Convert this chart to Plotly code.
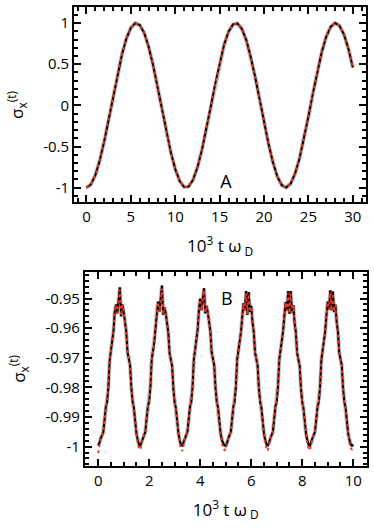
import plotly.graph_objects as go

# ---- panel A: sigma_x(t), 10^3 t w_D from 0 to 30 ----
t_a = [0.0, 0.5, 1.0, 1.5, 2.0, 2.5, 3.0, 3.5, 4.0, 4.5, 5.0, 5.5, 6.0, 6.5, 7.0, 7.5,
       8.0, 8.5, 9.0, 9.5, 10.0, 10.5, 11.0, 11.5, 12.0, 12.5, 13.0, 13.5, 14.0, 14.5,
       15.0, 15.5, 16.0, 16.5, 17.0, 17.5, 18.0, 18.5, 19.0, 19.5, 20.0, 20.5, 21.0,
       21.5, 22.0, 22.5, 23.0, 23.5, 24.0, 24.5, 25.0, 25.5, 26.0, 26.5, 27.0, 27.5,
       28.0, 28.5, 29.0, 29.5, 30.0]
sig_a = [-1.0, -0.961, -0.847, -0.667, -0.436, -0.170, 0.109, 0.379, 0.620, 0.813,
         0.942, 0.998, 0.976, 0.879, 0.712, 0.491, 0.230, -0.047, -0.322, -0.571,
         -0.775, -0.920, -0.992, -0.988, -0.906, -0.754, -0.543, -0.289, -0.014, 0.264,
         0.520, 0.735, 0.894, 0.983, 0.995, 0.930, 0.792, 0.591, 0.344, 0.075,
         -0.202, -0.466, -0.692, -0.866, -0.970, -0.999, -0.951, -0.828, -0.642, -0.404,
         -0.136, 0.143, 0.412, 0.647, 0.833, 0.953, 1.000, 0.968, 0.861, 0.687, 0.460]

# ---- panel B: zoom on the small fast oscillation, 0 to 10 ----
t_b = [0.0, 0.05, 0.1, 0.15, 0.2, 0.25, 0.3, 0.35, 0.4, 0.45, 0.5, 0.55, 0.6, 0.65, 0.7, 0.75, 0.8, 0.85, 0.9, 0.95,
       1.0, 1.05, 1.1, 1.15, 1.2, 1.25, 1.3, 1.35, 1.4, 1.45, 1.5, 1.55, 1.6, 1.65, 1.7, 1.75, 1.8, 1.85, 1.9, 1.95,
       2.0, 2.05, 2.1, 2.15, 2.2, 2.25, 2.3, 2.35, 2.4, 2.45, 2.5, 2.55, 2.6, 2.65, 2.7, 2.75, 2.8, 2.85, 2.9, 2.95,
       3.0, 3.05, 3.1, 3.15, 3.2, 3.25, 3.3, 3.35, 3.4, 3.45, 3.5, 3.55, 3.6, 3.65, 3.7, 3.75, 3.8, 3.85, 3.9, 3.95,
       4.0, 4.05, 4.1, 4.15, 4.2, 4.25, 4.3, 4.35, 4.4, 4.45, 4.5, 4.55, 4.6, 4.65, 4.7, 4.75, 4.8, 4.85, 4.9, 4.95,
       5.0, 5.05, 5.1, 5.15, 5.2, 5.25, 5.3, 5.35, 5.4, 5.45, 5.5, 5.55, 5.6, 5.65, 5.7, 5.75, 5.8, 5.85, 5.9, 5.95,
       6.0, 6.05, 6.1, 6.15, 6.2, 6.25, 6.3, 6.35, 6.4, 6.45, 6.5, 6.55, 6.6, 6.65, 6.7, 6.75, 6.8, 6.85, 6.9, 6.95,
       7.0, 7.05, 7.1, 7.15, 7.2, 7.25, 7.3, 7.35, 7.4, 7.45, 7.5, 7.55, 7.6, 7.65, 7.7, 7.75, 7.8, 7.85, 7.9, 7.95,
       8.0, 8.05, 8.1, 8.15, 8.2, 8.25, 8.3, 8.35, 8.4, 8.45, 8.5, 8.55, 8.6, 8.65, 8.7, 8.75, 8.8, 8.85, 8.9, 8.95,
       9.0, 9.05, 9.1, 9.15, 9.2, 9.25, 9.3, 9.35, 9.4, 9.45, 9.5, 9.55, 9.6, 9.65, 9.7, 9.75, 9.8, 9.85, 9.9, 9.95,
       10.0]

# exact result (black solid line)
sig_b_exact = [
    -0.9996, -0.9988, -0.9972, -0.9962, -0.9952, -0.9910, -0.9866, -0.9852, -0.9800, -0.9710, -0.9680,
    -0.9655, -0.9610, -0.9545, -0.9520, -0.9550, -0.9495, -0.9462, -0.9560, -0.9520, -0.9545, -0.9575,
    -0.9610, -0.9680, -0.9700, -0.9725, -0.9800, -0.9850, -0.9868, -0.9915, -0.9955, -0.9978, -0.9993,
    -0.9997, -0.9986, -0.9970, -0.9960, -0.9950, -0.9905, -0.9862, -0.9850, -0.9795, -0.9705, -0.9675,
    -0.9650, -0.9600, -0.9540, -0.9510, -0.9545, -0.9490, -0.9456, -0.9555, -0.9530, -0.9550, -0.9580,
    -0.9615, -0.9685, -0.9702, -0.9728, -0.9805, -0.9852, -0.9870, -0.9918, -0.9957, -0.9980, -0.9994,
    -0.9997, -0.9987, -0.9971, -0.9961, -0.9950, -0.9908, -0.9864, -0.9851, -0.9798, -0.9708, -0.9677,
    -0.9652, -0.9605, -0.9540, -0.9500, -0.9540, -0.9492, -0.9465, -0.9550, -0.9525, -0.9548, -0.9578,
    -0.9612, -0.9682, -0.9700, -0.9726, -0.9802, -0.9850, -0.9868, -0.9916, -0.9956, -0.9978, -0.9990, -0.9996,
    -0.9997, -0.9988, -0.9972, -0.9961, -0.9950, -0.9908, -0.9864, -0.9850, -0.9795, -0.9705, -0.9675,
    -0.9640, -0.9612, -0.9560, -0.9515, -0.9540, -0.9475, -0.9555, -0.9478, -0.9545, -0.9525, -0.9580,
    -0.9612, -0.9682, -0.9700, -0.9726, -0.9802, -0.9850, -0.9868, -0.9916, -0.9956, -0.9978, -0.9993,
    -0.9996, -0.9987, -0.9971, -0.9960, -0.9950, -0.9906, -0.9863, -0.9850, -0.9796, -0.9706, -0.9676,
    -0.9642, -0.9610, -0.9558, -0.9512, -0.9542, -0.9475, -0.9552, -0.9475, -0.9548, -0.9522, -0.9582,
    -0.9614, -0.9684, -0.9701, -0.9727, -0.9803, -0.9851, -0.9869, -0.9917, -0.9957, -0.9979, -0.9994,
    -0.9997, -0.9987, -0.9971, -0.9960, -0.9950, -0.9907, -0.9863, -0.9850, -0.9797, -0.9707, -0.9676,
    -0.9641, -0.9611, -0.9556, -0.9510, -0.9538, -0.9472, -0.9540, -0.9476, -0.9546, -0.9520, -0.9580,
    -0.9613, -0.9683, -0.9700, -0.9726, -0.9802, -0.9850, -0.9868, -0.9916, -0.9956, -0.9978, -0.9993,
    -0.9997, -0.9993]

# approximation (red dotted line)
sig_b_approx = [
    -1.0022, -0.9994, -0.9970, -0.9964, -0.9950, -0.9912, -0.9866, -0.9853, -0.9800, -0.9712, -0.9680,
    -0.9656, -0.9610, -0.9546, -0.9522, -0.9550, -0.9497, -0.9470, -0.9558, -0.9522, -0.9545, -0.9576,
    -0.9610, -0.9680, -0.9702, -0.9726, -0.9800, -0.9850, -0.9870, -0.9916, -0.9960, -0.9990, -1.0008,
    -1.0010, -0.9993, -0.9968, -0.9962, -0.9948, -0.9906, -0.9862, -0.9852, -0.9796, -0.9706, -0.9676,
    -0.9650, -0.9602, -0.9542, -0.9512, -0.9546, -0.9492, -0.9466, -0.9555, -0.9530, -0.9550, -0.9580,
    -0.9615, -0.9686, -0.9703, -0.9729, -0.9805, -0.9853, -0.9871, -0.9920, -0.9962, -0.9992, -1.0008,
    -1.0015, -0.9994, -0.9969, -0.9962, -0.9949, -0.9909, -0.9864, -0.9852, -0.9799, -0.9709, -0.9678,
    -0.9652, -0.9606, -0.9541, -0.9504, -0.9540, -0.9494, -0.9472, -0.9550, -0.9526, -0.9548, -0.9578,
    -0.9612, -0.9683, -0.9701, -0.9727, -0.9803, -0.9851, -0.9870, -0.9918, -0.9960, -0.9986, -1.0005, -1.0012,
    -1.0008, -0.9995, -0.9970, -0.9962, -0.9949, -0.9909, -0.9864, -0.9851, -0.9796, -0.9706, -0.9676,
    -0.9641, -0.9612, -0.9560, -0.9517, -0.9540, -0.9482, -0.9552, -0.9485, -0.9545, -0.9527, -0.9580,
    -0.9612, -0.9683, -0.9701, -0.9727, -0.9803, -0.9851, -0.9870, -0.9918, -0.9960, -0.9990, -1.0010,
    -1.0014, -0.9994, -0.9969, -0.9961, -0.9949, -0.9907, -0.9863, -0.9851, -0.9797, -0.9707, -0.9677,
    -0.9643, -0.9611, -0.9558, -0.9514, -0.9542, -0.9482, -0.9550, -0.9482, -0.9548, -0.9524, -0.9582,
    -0.9614, -0.9685, -0.9702, -0.9728, -0.9804, -0.9852, -0.9870, -0.9919, -0.9961, -0.9990, -1.0008,
    -1.0012, -0.9994, -0.9969, -0.9961, -0.9949, -0.9908, -0.9863, -0.9851, -0.9798, -0.9708, -0.9677,
    -0.9642, -0.9611, -0.9556, -0.9512, -0.9538, -0.9480, -0.9540, -0.9483, -0.9546, -0.9522, -0.9580,
    -0.9613, -0.9684, -0.9701, -0.9727, -0.9803, -0.9851, -0.9869, -0.9918, -0.9960, -0.9988, -1.0006,
    -1.0010, -1.0002]

ticks_a_x = [0, 5, 10, 15, 20, 25, 30]
ticks_a_y = [-1, -0.5, 0, 0.5, 1]
ticktext_a_y = ["-1", "-0.5", "0", "0.5", "1"]
ticks_b_x = [0, 2, 4, 6, 8, 10]
ticks_b_y = [-1, -0.99, -0.98, -0.97, -0.96, -0.95]
ticktext_b_y = ["-1", "-0.99", "-0.98", "-0.97", "-0.96", "-0.95"]

# panel letters, placed in data units of each panel
letter_a = dict(text="A", x=15.7, y=-0.948)
letter_b = dict(text="B", x=5.04, y=-0.9506)

BLACK = "#000000"
RED = "#f5331c"
TICKFONT = dict(size=15, color="black")
TITLEFONT = dict(size=17, color="black")

fig = go.Figure()
for xs, ys, yr, ax in [(t_a, sig_a, sig_a, ("x", "y")), (t_b, sig_b_exact, sig_b_approx, ("x2", "y2"))]:
    fig.add_trace(go.Scatter(x=xs, y=ys, mode="lines", xaxis=ax[0], yaxis=ax[1],
                             line=dict(color="rgba(0,0,0,0.25)", width=4), hoverinfo="skip"))
    fig.add_trace(go.Scatter(x=xs, y=ys, mode="lines", xaxis=ax[0], yaxis=ax[1],
                             line=dict(color=BLACK, width=2)))
    fig.add_trace(go.Scatter(x=xs, y=yr, mode="lines", xaxis=ax[0], yaxis=ax[1],
                             line=dict(color=RED, width=1.8, dash="dot")))

# panel letters as text traces (no annotations)
for lab, ax in [(letter_a, ("x", "y")), (letter_b, ("x2", "y2"))]:
    fig.add_trace(go.Scatter(x=[lab["x"]], y=[lab["y"]], text=[lab["text"]], mode="text",
                             xaxis=ax[0], yaxis=ax[1], textfont=dict(size=18, color="black"),
                             hoverinfo="skip"))


def frame(step, **kw):
    d = dict(showline=True, linecolor="black", linewidth=2, mirror="allticks",
             ticks="inside", ticklen=7, tickwidth=1.5, tickcolor="black", tickmode="array",
             showgrid=False, zeroline=False, automargin=False, tickfont=TICKFONT,
             minor=dict(ticks="inside", ticklen=4, tickcolor="black", dtick=step, tick0=0))
    d.update(kw)
    return d


xlabel = "10<sup>3</sup> t ω<sub> D</sub>"
ylabel = "σ<sub>x</sub><sup>(t)</sup>"

fig.update_layout(
    width=374, height=530,
    margin=dict(l=0, r=0, t=0, b=0, autoexpand=False),
    paper_bgcolor="white", plot_bgcolor="white",
    font=dict(color="black"),
    showlegend=False,
    xaxis=frame(1, domain=[0.198, 0.979], range=[-1.4, 31.5], anchor="y",
                tickvals=ticks_a_x, title=dict(text=xlabel, font=TITLEFONT)),
    yaxis=frame(0.1, domain=[0.618, 0.986], range=[-1.18, 1.19], anchor="x",
                tickvals=ticks_a_y, ticktext=ticktext_a_y,
                title=dict(text=ylabel, font=TITLEFONT)),
    xaxis2=frame(0.5, domain=[0.227, 0.980], range=[-0.52, 10.52], anchor="y2",
                 tickvals=ticks_b_x, title=dict(text=xlabel, font=TITLEFONT)),
    yaxis2=frame(0.002, domain=[0.121, 0.487], range=[-1.0065, -0.941], anchor="x2",
                 tickvals=ticks_b_y, ticktext=ticktext_b_y,
                 title=dict(text=ylabel, font=TITLEFONT)),
)

fig.write_html("out.html", post_script="document.body.style.margin='0';",
               config={"displayModeBar": False})
